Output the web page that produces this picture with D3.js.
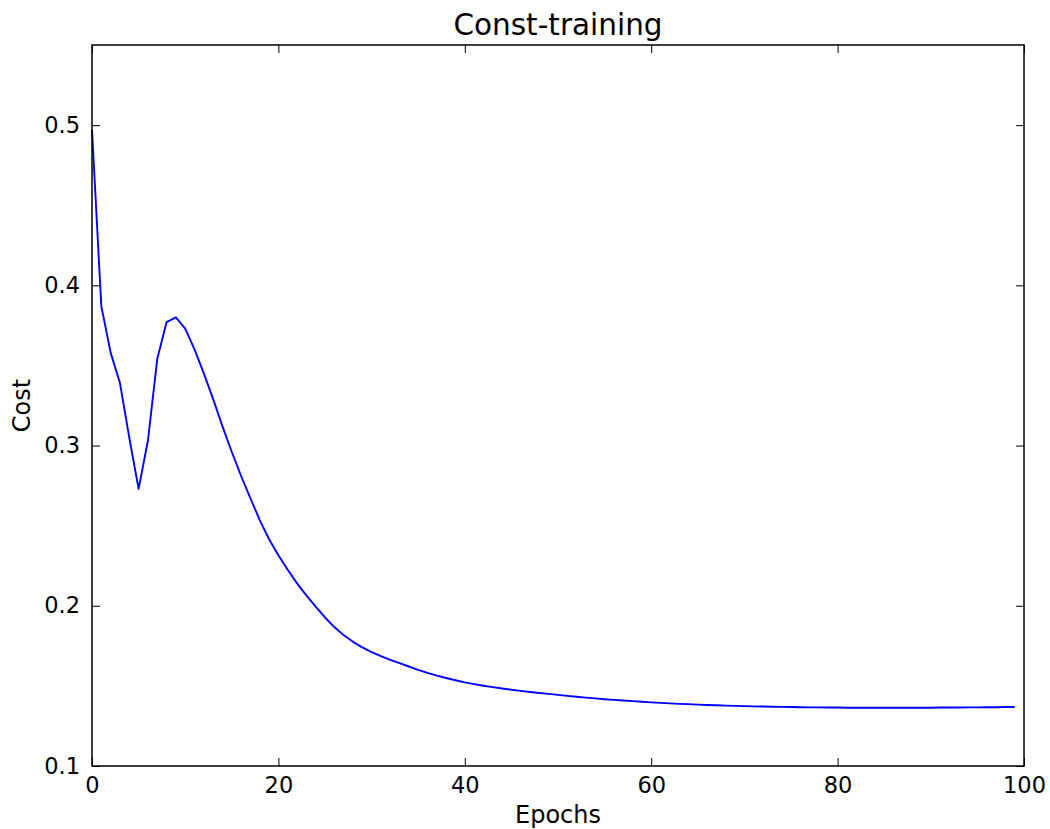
<!DOCTYPE html>
<html>
<head>
<meta charset="utf-8">
<script src="https://cdn.jsdelivr.net/npm/d3@7"></script>
<style>
  html,body{margin:0;padding:0;background:#fff;}
  svg text{font-family:"DejaVu Sans",sans-serif;fill:#000;}
</style>
</head>
<body>
<div id="chart"></div>
<script>
// Kosten je Epoche (0..99)
const epochs = d3.range(0, 100);
const cost = [
  0.497, 0.387, 0.358, 0.339, 0.305, 0.273, 0.303, 0.354, 0.377, 0.380,
  0.373, 0.360, 0.345, 0.329, 0.312, 0.296, 0.281, 0.267, 0.2535, 0.2415,
  0.2315, 0.2225, 0.214, 0.2065, 0.1995, 0.1927, 0.1867, 0.1817, 0.1775, 0.174,
  0.1711, 0.1686, 0.1663, 0.1642, 0.1621, 0.160, 0.1581, 0.1564, 0.1549, 0.1535,
  0.1522, 0.1511, 0.1501, 0.1492, 0.1484, 0.1476, 0.1469, 0.1462, 0.1456, 0.145,
  0.1444, 0.1438, 0.1432, 0.1427, 0.1422, 0.1417, 0.1413, 0.1409, 0.1405, 0.1401,
  0.1397, 0.1394, 0.1391, 0.1388, 0.1386, 0.1383, 0.1381, 0.1379, 0.1377, 0.1375,
  0.1374, 0.1372, 0.1371, 0.137, 0.1369, 0.1368, 0.1367, 0.1366, 0.1366, 0.1365,
  0.1365, 0.1364, 0.1364, 0.1364, 0.1364, 0.1364, 0.1364, 0.1364, 0.1364, 0.1364,
  0.1364, 0.1365, 0.1365, 0.1365, 0.1366, 0.1366, 0.1367, 0.1367, 0.1368, 0.1368
];
const xTicks = [0, 20, 40, 60, 80, 100];
const yTicks = [0.1, 0.2, 0.3, 0.4, 0.5];
const title = "Const-training", xLabel = "Epochs", yLabel = "Cost";

const W=1050, H=829, m={l:92,r:26,t:45,b:63};
const x = d3.scaleLinear().domain([0,100]).range([m.l, W-m.r]);
const y = d3.scaleLinear().domain([0.1,0.55]).range([H-m.b, m.t]);

const svg = d3.select("#chart").append("svg").attr("width",W).attr("height",H);

// Linie
const line = d3.line().x((d,i)=>x(epochs[i])).y(d=>y(d));
svg.append("path").datum(cost).attr("d",line)
  .attr("fill","none").attr("stroke","#0000ff").attr("stroke-width",1.9).attr("stroke-linejoin","round");

// Achsen: Ticks nach innen auf allen vier Seiten
const tl = 8;
const fmtY = d3.format(".1f");
svg.append("g").attr("transform",`translate(0,${H-m.b})`)
  .call(d3.axisBottom(x).tickValues(xTicks).tickSize(-tl).tickPadding(11).tickFormat(d3.format("d")));
svg.append("g").attr("transform",`translate(0,${m.t})`)
  .call(d3.axisTop(x).tickValues(xTicks).tickSize(-tl).tickFormat(""));
svg.append("g").attr("transform",`translate(${m.l},0)`)
  .call(d3.axisLeft(y).tickValues(yTicks).tickSize(-tl).tickPadding(12).tickFormat(fmtY));
svg.append("g").attr("transform",`translate(${W-m.r},0)`)
  .call(d3.axisRight(y).tickValues(yTicks).tickSize(-tl).tickFormat(""));
svg.selectAll(".domain").remove();
svg.selectAll(".tick line").attr("stroke","#000").attr("stroke-width",1);
svg.selectAll(".tick text").attr("font-size",22.5).attr("font-family","DejaVu Sans");

// Rahmen
svg.append("rect").attr("x",m.l).attr("y",m.t).attr("width",W-m.r-m.l).attr("height",H-m.b-m.t)
  .attr("fill","none").attr("stroke","#000").attr("stroke-width",1.5);

// Texte
svg.append("text").attr("x",(m.l+W-m.r)/2).attr("y",35).attr("text-anchor","middle").attr("font-size",29.5).text(title);
svg.append("text").attr("x",(m.l+W-m.r)/2).attr("y",823).attr("text-anchor","middle").attr("font-size",24).text(xLabel);
svg.append("text").attr("transform",`translate(30,${(m.t+H-m.b)/2}) rotate(-90)`).attr("text-anchor","middle").attr("font-size",24).text(yLabel);
</script>
</body>
</html>
